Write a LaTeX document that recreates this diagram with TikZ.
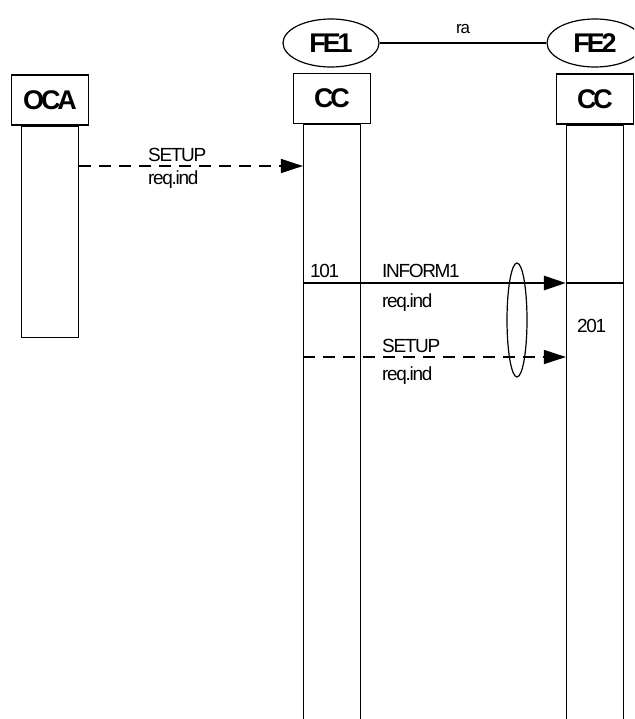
\documentclass[tikz,border=0pt]{standalone}
\usepackage{fontspec}
\setmainfont{Liberation Sans}[LetterSpace=-7]
\newfontfamily\headfont{Liberation Sans}[LetterSpace=-12]
\usetikzlibrary{positioning, arrows.meta, shapes.geometric}

\begin{document}
\begin{tikzpicture}[x=1pt, y=-1pt]
	\tikzset{
		entity/.style={ellipse, draw, line width=1.2pt, minimum width=96pt, minimum height=48pt, inner sep=0pt, font=\fontsize{27}{30}\headfont\bfseries},
		unit/.style={rectangle, draw, line width=1.2pt, minimum width=77pt, minimum height=50pt, inner sep=0pt, font=\fontsize{27}{30}\headfont\bfseries},
		life/.style={rectangle, draw, line width=1.2pt, minimum width=57pt, inner sep=0pt},
		sig/.style={-{Triangle[length=22pt, width=14pt]}, line width=1.4pt},
		dsig/.style={sig, dash pattern=on 12pt off 8pt},
		txt/.style={inner sep=0pt, anchor=base west, font=\fontsize{19}{22}\selectfont}
	}
	\clip (0,0) rectangle (634,719);
	
	% functional entities
	\node[entity] (fe1) at (331,43) {FE1};
	\node[entity] (fe2) at (595,43) {FE2};
	\draw[line width=1.2pt] (fe1) -- node[above=9pt, inner sep=0pt, font=\fontsize{17}{19}\selectfont] (ra) {ra} (fe2);
	
	% boxes and lifelines
	\node[unit] (oca) at (50,100) {OCA};
	\node[unit] (cc1) at (332,98.5) {CC};
	\node[unit] (cc2) at (595,99) {CC};
	\node[life, minimum height=211pt, below=0pt of oca] (ocaL) {};
	\node[life, minimum height=620pt, below=0pt of cc1] (cc1L) {};
	\node[life, minimum height=620pt, below=0pt of cc2] (cc2L) {};
	
	% SETUP OCA -> CC
	\coordinate (m1) at (0,166);
	\draw[dsig] (ocaL.east |- m1) -- (cc1L.west |- m1);
	\node[txt] (s1) at (148,162) {SETUP};
	\node[txt] (r1) at (148,185) {req.ind};
	
	% INFORM1 CC -> CC
	\coordinate (m2) at (0,283);
	\draw[sig, line width=2.8pt] (cc1L.west |- m2) -- (cc2L.west |- m2);
	\draw[line width=2.8pt] (cc2L.west |- m2) -- (cc2L.east |- m2);
	\node[txt] (n101) at (310,277) {101};
	\node[txt] (i2) at (382,277) {INFORM1};
	\node[txt] (r2) at (382,307) {req.ind};
	\node[txt] (n201) at (577,332) {201};
	
	% SETUP CC -> CC
	\coordinate (m3) at (0,357);
	\draw[dsig] (cc1L.west |- m3) -- (cc2L.west |- m3);
	\node[txt] (s3) at (382,352) {SETUP};
	\node[txt] (r3) at (382,380) {req.ind};
	
	% grouping of the two messages
	\node[ellipse, draw, line width=1.2pt, minimum width=20pt, minimum height=114pt, inner sep=0pt] (grp) at (517,320) {};
\end{tikzpicture}
\end{document}
